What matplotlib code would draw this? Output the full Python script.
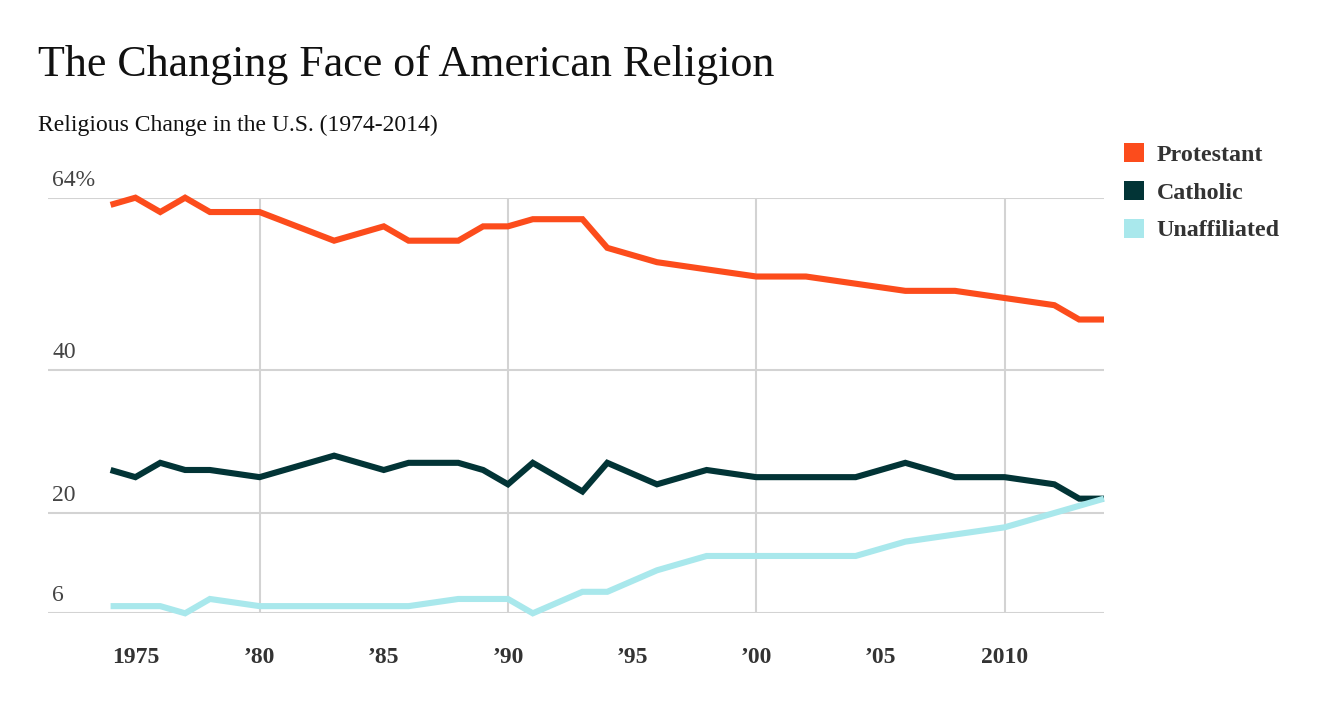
import numpy as np
import matplotlib.pyplot as plt
from matplotlib.patches import Patch
from matplotlib.transforms import blended_transform_factory

years = [1974, 1975, 1976, 1977, 1978, 1980, 1983, 1985, 1986, 1988, 1989, 1990, 1991,
         1993, 1994, 1996, 1998, 2000, 2002, 2004, 2006, 2008, 2010, 2012, 2013, 2014]
protestant = [63, 64, 62, 64, 62, 62, 58, 60, 58, 58, 60, 60, 61,
              61, 57, 55, 54, 53, 53, 52, 51, 51, 50, 49, 47, 47]
catholic = [26, 25, 27, 26, 26, 25, 28, 26, 27, 27, 26, 24, 27,
            23, 27, 24, 26, 25, 25, 25, 27, 25, 25, 24, 22, 22]
unaffiliated = [7, 7, 7, 6, 8, 7, 7, 7, 7, 8, 8, 8, 6,
                9, 9, 12, 14, 14, 14, 14, 16, 17, 18, 20, 21, 22]

series = ["Protestant", "Catholic", "Unaffiliated"]
colors = ["#fc4c1c", "#023436", "#a9e8ec"]

xticks = [1975, 1980, 1985, 1990, 1995, 2000, 2005, 2010]
xlabels = ["1975", "\u201980", "\u201985", "\u201990", "\u201995", "\u201900", "\u201905", "2010"]
yticks = [6, 20, 40, 64]
ylabels = ["6", "20", "40", "64%"]
vgrid = [1980, 1990, 2000, 2010]

serif = ["Liberation Serif", "DejaVu Serif"]
plt.rcParams['font.family'] = serif

fig = plt.figure(figsize=(13.24, 7.05), dpi=100)
ax = fig.add_axes([48/1324, 1-613.3/705, (1104-48)/1324, (613.3-197.7)/705])

for vals, c in zip([protestant, catholic, unaffiliated], colors):
    ax.plot(years, vals, color=c, lw=4.4, solid_joinstyle='miter', solid_capstyle='butt',
            clip_on=False, zorder=3)

ax.set_xlim(1974 - 2.52, 2014)
ax.set_ylim(6, 64)

for y in yticks:
    ax.axhline(y, color="#d3d3d3", lw=1.5, zorder=1)
for x in vgrid:
    ax.axvline(x, color="#d3d3d3", lw=1.5, zorder=1)

# y labels sit above their gridlines
ax.set_yticks([])
trans = blended_transform_factory(ax.transAxes, ax.transData)
for y, lab in zip(yticks, ylabels):
    ax.annotate(lab, (4/1056, y), xycoords=trans, xytext=(0, 5), textcoords='offset points',
                ha='left', va='bottom', fontsize=17, color="#444444")

ax.set_xticks(xticks)
ax.set_xticklabels(xlabels, fontsize=17, fontweight='bold', color="#333333")
ax.tick_params(axis='x', length=0, pad=24)

for s in ax.spines.values():
    s.set_visible(False)

fig.text(38/1324, 1-76/705, "The Changing Face of American Religion", fontsize=31.7,
         color="#111111", ha='left', va='baseline')
fig.text(38/1324, 1-131/705, "Religious Change in the U.S. (1974-2014)", fontsize=17,
         color="#111111", ha='left', va='baseline')

handles = [Patch(facecolor=c, edgecolor='none') for c in colors]
leg = fig.legend(handles, series, loc='upper left', bbox_to_anchor=(1124/1324, 1-143/705),
                 frameon=False, handlelength=0.85, handleheight=0.85, handletextpad=0.5,
                 labelspacing=0.62, borderpad=0, borderaxespad=0,
                 prop={'family': serif, 'weight': 'bold', 'size': 17.3})
for t in leg.get_texts():
    t.set_color("#333333")

fig.savefig("out.png", dpi=100)
